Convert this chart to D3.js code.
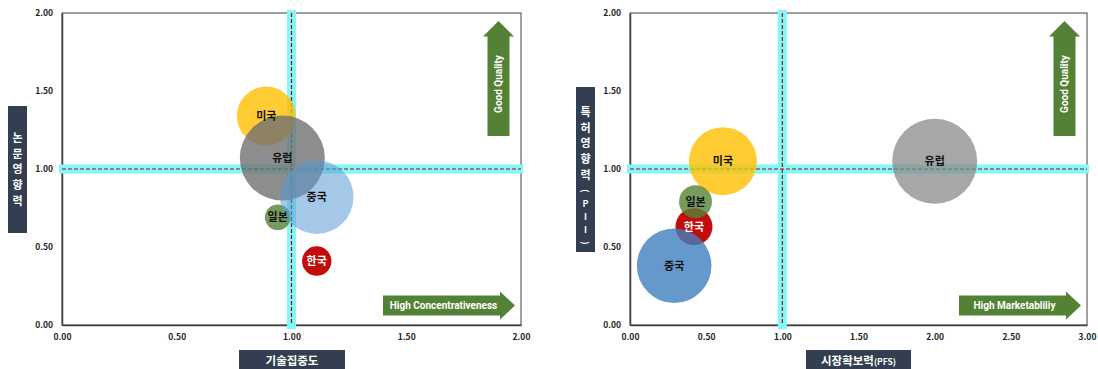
<!DOCTYPE html>
<html><head><meta charset="utf-8">
<script src="https://cdn.jsdelivr.net/npm/d3@7"></script>
<style>
body{margin:0;background:#fff;}
svg{display:block;font-family:"Noto Sans CJK KR","Noto Sans",sans-serif;}
</style></head>
<body><svg id="c" width="1098" height="369"></svg>
<script>
// ---- data ----
const countries = ["한국","미국","일본","유럽","중국"];
// left chart: 기술집중도 vs 논문영향력
const leftX = [1.11, 0.89, 0.94, 0.96, 1.11];
const leftY = [0.41, 1.34, 0.69, 1.07, 0.82];
const leftSize = [12, 48, 9, 100, 75];
// right chart: 시장확보력(PFS) vs 특허영향력(PII)
const rightX = [0.42, 0.61, 0.43, 2.00, 0.29];
const rightY = [0.63, 1.05, 0.79, 1.05, 0.38];
const rightSize = [19, 64, 15, 100, 77];
const leftXTicks = ["0.00","0.50","1.00","1.50","2.00"];
const rightXTicks = ["0.00","0.50","1.00","1.50","2.00","2.50","3.00"];
const yTicks = ["0.00","0.50","1.00","1.50","2.00"];

const svg = d3.select("#c");
const colorsL = {"한국":["#c00000",0.95],"미국":["#ffc000",0.8],"일본":["#548235",0.8],"유럽":["#707070",0.8],"중국":["#5b9bd5",0.55]};
const colorsR = {"한국":["#c00000",0.95],"미국":["#ffc000",0.8],"일본":["#548235",0.8],"유럽":["#8a8a8a",0.75],"중국":["#3f7fbf",0.8]};

function chart(o){
  const x = d3.scaleLinear().domain([0,o.xmax]).range([o.x0,o.x1]);
  const y = d3.scaleLinear().domain([0,2]).range([325,13]);
  const g = svg.append("g");
  // frame
  g.append("rect").attr("x",o.x0).attr("y",13).attr("width",o.x1-o.x0).attr("height",312)
   .attr("fill","none").attr("stroke","#404040").attr("stroke-width",1);
  // axes
  const xa = g.append("g").attr("transform","translate(0,325)")
    .call(d3.axisBottom(x).tickValues(o.xticks.map(Number)).tickSize(0).tickFormat((d,i)=>o.xticks[i]));
  xa.select(".domain").attr("stroke","#404040").attr("stroke-width",1.5);
  xa.selectAll("text").attr("dy",0).attr("y",15).attr("font-size",8.5).attr("font-weight","bold").attr("fill","#222").attr("font-family","Noto Sans CJK KR");
  const ya = g.append("g").attr("transform",`translate(${o.x0},0)`)
    .call(d3.axisLeft(y).tickValues(yTicks.map(Number)).tickSize(0).tickFormat((d,i)=>yTicks[i]));
  ya.select(".domain").attr("stroke","#404040").attr("stroke-width",1.5);
  ya.selectAll("text").attr("x",-9).attr("font-size",8.5).attr("font-weight","bold").attr("fill","#222").attr("font-family","Noto Sans CJK KR");
  // reference bands
  const cx = x(1), cy = y(1);
  g.append("rect").attr("x",cx-4.5).attr("y",10).attr("width",9).attr("height",319).attr("fill","#7ff9f9");
  g.append("rect").attr("x",o.x0-3).attr("y",cy-4.5).attr("width",o.x1-o.x0+5).attr("height",9).attr("fill","#7ff9f9");
  g.append("line").attr("x1",cx).attr("x2",cx).attr("y1",13).attr("y2",325).attr("stroke","#c00000").attr("stroke-width",1.2).attr("stroke-dasharray","4,2");
  g.append("line").attr("x1",o.x0).attr("x2",o.x1).attr("y1",cy).attr("y2",cy).attr("stroke","#c00000").attr("stroke-width",1.2).attr("stroke-dasharray","4,2");
  // bubbles
  const r = d3.scaleSqrt().domain([0,100]).range([0,42.5]);
  const data = countries.map((c,i)=>({c, x:o.xs[i], y:o.ys[i], s:o.ss[i]}));
  g.selectAll("circle.b").data(data).join("circle").attr("class","b")
    .attr("cx",d=>x(d.x)).attr("cy",d=>y(d.y)).attr("r",d=>r(d.s))
    .attr("fill",d=>o.colors[d.c][0]).attr("fill-opacity",d=>o.colors[d.c][1]);
  g.selectAll("text.lb").data(data).join("text").attr("class","lb")
    .attr("x",d=>x(d.x)).attr("y",d=>y(d.y)).attr("dy","0.35em").attr("text-anchor","middle")
    .attr("font-size",11).attr("font-weight","bold").attr("fill",d=>d.c==="한국"?"#fff":"#111").text(d=>d.c);
  // up arrow
  const ax = o.x1-22.5;
  g.append("path").attr("fill","#538135")
   .attr("d",`M${ax},21 L${ax+15.5},36.5 L${ax+11},36.5 L${ax+11},136 L${ax-11},136 L${ax-11},36.5 L${ax-15.5},36.5 Z`);
  g.append("text").attr("transform",`translate(${ax+3.5},84) rotate(-90)`).attr("text-anchor","middle")
   .attr("font-size",10).attr("font-weight","bold").attr("fill","#fff").attr("font-family","Roboto").text("Good Quality");
  // right arrow
  const hx0 = o.hx0, hx1 = o.x1-6;
  g.append("path").attr("fill","#538135")
   .attr("d",`M${hx0},295.5 L${hx1-15},295.5 L${hx1-15},291.5 L${hx1},305.5 L${hx1-15},319.5 L${hx1-15},315.5 L${hx0},315.5 Z`);
  g.append("text").attr("x",(hx0+hx1-15)/2+2).attr("y",305.5).attr("dy","0.35em").attr("text-anchor","middle")
   .attr("font-size",10).attr("font-weight","bold").attr("fill","#fff").attr("font-family","Roboto").text(o.hText);
  // x label box
  g.append("rect").attr("x",o.xb[0]).attr("y",350).attr("width",o.xb[1]-o.xb[0]).attr("height",20).attr("fill","#333f50");
  const xt = g.append("text").attr("x",(o.xb[0]+o.xb[1])/2).attr("y",361).attr("dy","0.35em").attr("text-anchor","middle")
   .attr("font-size",11.5).attr("font-weight","bold").attr("fill","#fff");
  xt.append("tspan").text(o.xLabel[0]);
  if(o.xLabel[1]) xt.append("tspan").attr("font-size",8.5).text(o.xLabel[1]);
  // y label box
  g.append("rect").attr("x",o.yb[0]).attr("y",o.yb[1]).attr("width",19).attr("height",o.yb[2]-o.yb[1]).attr("fill","#333f50");
  let yy = o.yb[3];
  o.yChars.forEach(ch=>{
    const narrow = /[()PI]/.test(ch);
    const t = g.append("text").attr("x",o.yb[0]+9.5).attr("y",yy).attr("dy","0.35em").attr("text-anchor","middle")
      .attr("font-size",narrow?9:11).attr("font-weight","bold").attr("fill","#fff");
    if(ch==="(" || ch===")") t.attr("transform",`rotate(90,${o.yb[0]+9.5},${yy})`);
    t.text(ch);
    yy += narrow?13:15.8;
  });
}

chart({x0:62,x1:521,xmax:2,xticks:leftXTicks,xs:leftX,ys:leftY,ss:leftSize,colors:colorsL,
  hx0:383,hText:"High Concentrativeness",xb:[239,345],xLabel:["기술집중도"],
  yb:[8,106,233,138],yChars:["논","문","영","향","력"]});
chart({x0:630,x1:1087,xmax:3,xticks:rightXTicks,xs:rightX,ys:rightY,ss:rightSize,colors:colorsR,
  hx0:959,hText:"High Marketabliliy",xb:[806,911],xLabel:["시장확보력","(PFS)"],
  yb:[576,87,252,112],yChars:["특","허","영","향","력","(","P","I","I",")"]});
</script></body></html>
